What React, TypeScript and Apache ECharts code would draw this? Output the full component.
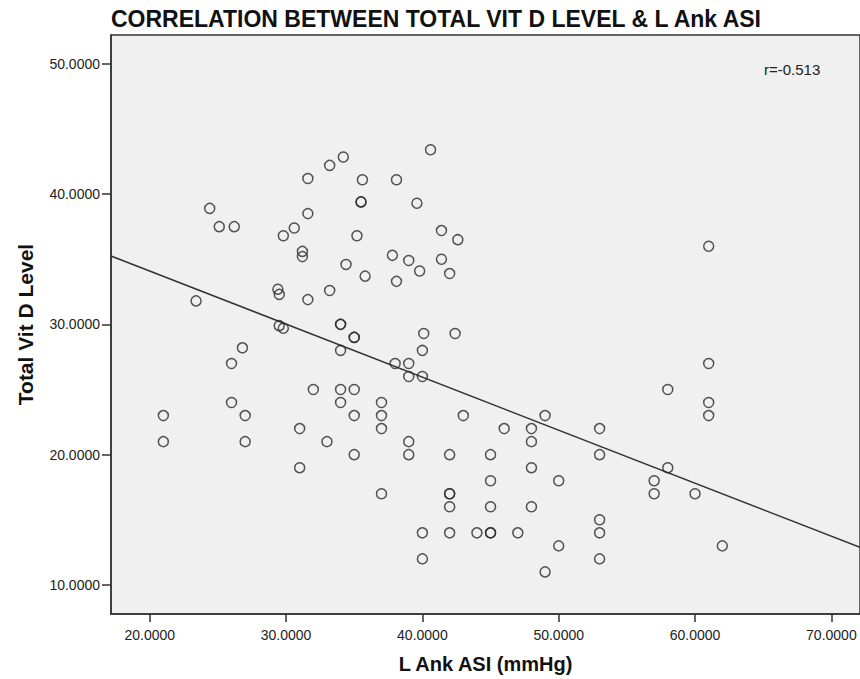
import React, { useEffect, useRef } from "react";
import * as echarts from "echarts";

// L Ank ASI (mmHg) values
const ankAsi: number[] = [
  24.4, 25.1, 26.2, 23.4, 29.5, 29.8, 26.8, 26.0, 26.0, 21, 27, 21, 27,
  40.6, 34.2, 33.2, 31.6, 35.6, 38.1, 35.5, 35.5, 39.6, 31.6, 30.6, 29.8,
  35.2, 41.4, 42.6, 31.2, 31.2, 37.8, 39.0, 41.4, 34.4, 39.8, 42.0, 35.8,
  38.1, 29.4, 29.5, 31.6, 33.2, 34, 34, 35, 35, 34, 40.1, 42.4, 40, 38, 39,
  39, 40, 32, 34, 35, 34, 37, 35, 37, 43, 31, 37, 33, 39, 35, 39, 42, 31,
  37, 42, 42, 42, 40, 42, 44, 40, 49, 46, 48, 48, 53, 53, 45, 48, 45, 50,
  57, 57, 45, 48, 45, 45, 47, 53, 53, 50, 53, 49, 61, 61, 58, 61, 61, 58,
  60, 62,
];

// Total Vit D Level values
const vitD: number[] = [
  38.9, 37.5, 37.5, 31.8, 29.9, 29.7, 28.2, 27.0, 24.0, 23, 23, 21, 21,
  43.4, 42.85, 42.2, 41.2, 41.1, 41.1, 39.4, 39.4, 39.3, 38.5, 37.4, 36.8,
  36.8, 37.2, 36.5, 35.6, 35.2, 35.3, 34.9, 35.0, 34.6, 34.1, 33.9, 33.7,
  33.3, 32.7, 32.3, 31.9, 32.6, 30, 30, 29, 29, 28, 29.3, 29.3, 28, 27, 27,
  26, 26, 25, 25, 25, 24, 24, 23, 23, 23, 22, 22, 21, 21, 20, 20, 20, 19,
  17, 17, 17, 16, 14, 14, 14, 12, 23, 22, 22, 21, 22, 20, 20, 19, 18, 18,
  18, 17, 16, 16, 14, 14, 14, 15, 14, 13, 12, 11, 36, 27, 25, 24, 23, 19,
  17, 13,
];

const xTicks: number[] = [20, 30, 40, 50, 60, 70];
const yTicks: number[] = [10, 20, 30, 40, 50];

// Fit line
const fitIntercept = 42.23;
const fitSlope = -0.407;
const rLabel = "r=-0.513";

const titleText = "CORRELATION BETWEEN TOTAL VIT D LEVEL & L Ank ASI";
const xTitle = "L Ank ASI (mmHg)";
const yTitle = "Total Vit D Level";

const X_MIN = 17.16;
const X_MAX = 72.1;
const Y_MIN = 7.77;
const Y_MAX = 52.21;

export default function App() {
  const ref = useRef<HTMLDivElement>(null);

  useEffect(() => {
    if (!ref.current) return;
    const chart = echarts.init(ref.current, undefined, { renderer: "svg" });
    const points = ankAsi.map((x, i) => [x, vitD[i]]);
    const fitLine = [
      [X_MIN, fitIntercept + fitSlope * X_MIN],
      [X_MAX, fitIntercept + fitSlope * X_MAX],
    ];
    const font = "'Liberation Sans', Arial, sans-serif";
    chart.setOption({
      animation: false,
      backgroundColor: "#ffffff",
      title: {
        text: titleText,
        left: 111,
        top: 7,
        padding: 0,
        textStyle: {
          fontFamily: font,
          fontSize: 23,
          fontWeight: "bold",
          color: "#111",
        },
      },
      graphic: [
        {
          type: "text",
          left: 764,
          top: 62,
          style: {
            text: rLabel,
            fontFamily: font,
            fontSize: 15,
            fill: "#222",
          },
        },
      ],
      grid: {
        left: 111,
        top: 35,
        right: 0,
        bottom: 65,
        show: true,
        backgroundColor: "#f0f0f0",
        borderColor: "#333",
        borderWidth: 1.5,
      },
      xAxis: {
        type: "value",
        min: X_MIN,
        max: X_MAX,
        name: xTitle,
        nameLocation: "middle",
        nameGap: 40,
        nameTextStyle: {
          fontFamily: font,
          fontSize: 20,
          fontWeight: "bold",
          color: "#111",
        },
        axisLine: { show: true, lineStyle: { color: "#333", width: 1.5 } },
        axisTick: {
          show: true,
          length: 8,
          customValues: xTicks,
          lineStyle: { color: "#333", width: 1.5 },
        },
        axisLabel: {
          customValues: xTicks,
          formatter: (v: number) => v.toFixed(4),
          margin: 14,
          fontFamily: font,
          fontSize: 14,
          color: "#222",
        },
        splitLine: { show: false },
      },
      yAxis: {
        type: "value",
        min: Y_MIN,
        max: Y_MAX,
        name: yTitle,
        nameLocation: "middle",
        nameGap: 75,
        nameTextStyle: {
          fontFamily: font,
          fontSize: 21,
          fontWeight: "bold",
          color: "#111",
        },
        axisLine: { show: true, lineStyle: { color: "#333", width: 1.5 } },
        axisTick: {
          show: true,
          length: 9,
          customValues: yTicks,
          lineStyle: { color: "#333", width: 1.5 },
        },
        axisLabel: {
          customValues: yTicks,
          formatter: (v: number) => v.toFixed(4),
          margin: 11,
          fontFamily: font,
          fontSize: 14,
          color: "#222",
        },
        splitLine: { show: false },
      },
      series: [
        {
          type: "line",
          data: fitLine,
          symbol: "none",
          lineStyle: { color: "#333", width: 1.5 },
          silent: true,
          clip: true,
          z: 2,
        },
        {
          type: "scatter",
          data: points,
          symbol: "circle",
          symbolSize: 10,
          itemStyle: {
            color: "rgba(0,0,0,0)",
            borderColor: "#2a2a2a",
            borderWidth: 1.5,
          },
          z: 3,
        },
      ],
    });
    return () => chart.dispose();
  }, []);

  return (
    <div
      ref={ref}
      style={{ position: "fixed", left: 0, top: 0, width: 860, height: 679 }}
    />
  );
}
